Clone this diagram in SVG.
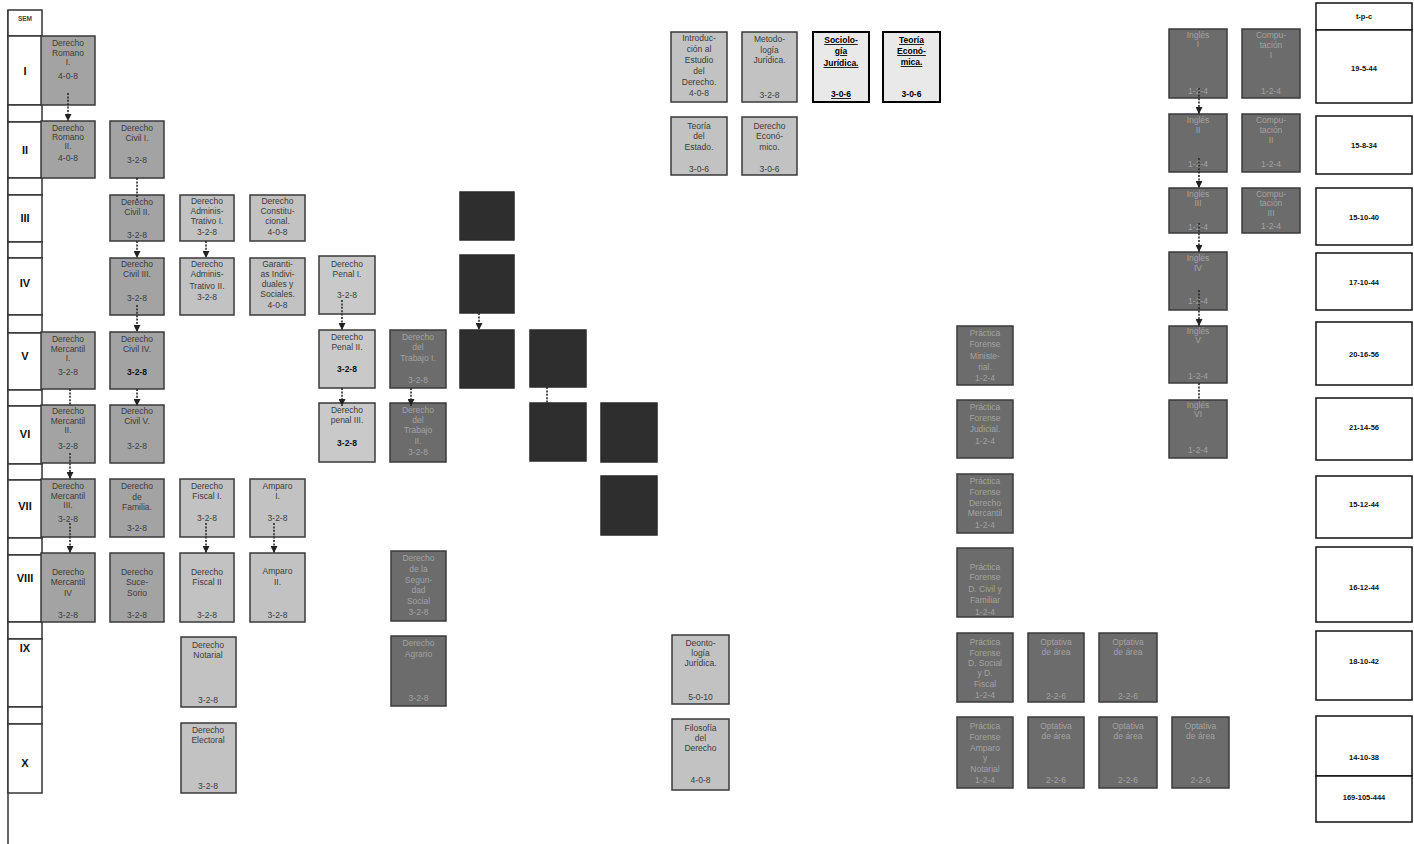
<svg xmlns="http://www.w3.org/2000/svg" width="1414" height="844" viewBox="0 0 1414 844">
<style>
text{font-family:'Liberation Sans',Arial,sans-serif;text-anchor:middle}
.n rect{stroke:#3a3a3a;stroke-width:1.5}
.lt rect{fill:#c2c2c2}.lt2 rect{fill:#c9c9c9}.md rect{fill:#a3a3a3}.dk rect{fill:#6c6c6c}.vd rect{fill:#2e2e2e;stroke:#2a2a2a}
.wb rect{fill:#e9e9e9;stroke:#000;stroke-width:2}
.n text{font-size:8.5px;fill:#3c3c3c}
.dk text{fill:#a2a2a2}
.wb text{fill:#000;font-weight:bold}
.u{text-decoration:underline}
.b{font-weight:bold;fill:#111}
.sem rect{fill:#fff;stroke:#333;stroke-width:1.5}
.sem text{font-size:11px;font-weight:bold;fill:#111}
.tot rect{fill:#fff;stroke:#111;stroke-width:1.5}
.tot text{font-size:7.5px;font-weight:bold;fill:#111}
.c path{fill:none;stroke:#2a2a2a;stroke-width:1.6;stroke-dasharray:2 1.4}
</style>
<defs>
<marker id="ar" markerUnits="userSpaceOnUse" markerWidth="7" markerHeight="7" refX="7" refY="3.5" orient="auto"><path d="M0,0 L7,3.5 L0,7 z" fill="#222"/></marker>
</defs>
<rect width="1414" height="844" fill="#fff"/>

<g id="semesters" class="sem">
<line x1="8" y1="10" x2="8" y2="844" stroke="#333" stroke-width="1.5"/>
<rect x="8" y="10" width="34" height="26"/><text x="25" y="21" style="font-size:6.5px;fill:#444">SEM</text>
<rect x="8" y="36" width="34" height="69"/><text x="25" y="75">I</text>
<rect x="8" y="105" width="34" height="17"/>
<rect x="8" y="122" width="34" height="56"/><text x="25" y="154">II</text>
<rect x="8" y="178" width="34" height="17"/>
<rect x="8" y="195" width="34" height="47"/><text x="25" y="222">III</text>
<rect x="8" y="242" width="34" height="16"/>
<rect x="8" y="258" width="34" height="57"/><text x="25" y="287">IV</text>
<rect x="8" y="315" width="34" height="18"/>
<rect x="8" y="333" width="34" height="57"/><text x="25" y="360">V</text>
<rect x="8" y="390" width="34" height="16"/>
<rect x="8" y="406" width="34" height="58"/><text x="25" y="438">VI</text>
<rect x="8" y="464" width="34" height="16"/>
<rect x="8" y="480" width="34" height="58"/><text x="25" y="510">VII</text>
<rect x="8" y="538" width="34" height="17"/>
<rect x="8" y="555" width="34" height="67"/><text x="25" y="582">VIII</text>
<rect x="8" y="622" width="34" height="17"/>
<rect x="8" y="639" width="34" height="68"/><text x="25" y="652">IX</text>
<rect x="8" y="707" width="34" height="17"/>
<rect x="8" y="724" width="34" height="69"/><text x="25" y="767">X</text>
</g>

<g id="romano1" class="n md"><rect x="41" y="36" width="54" height="69"/><text><tspan x="68" y="46">Derecho</tspan><tspan x="68" y="56">Romano</tspan><tspan x="68" y="65">I.</tspan><tspan x="68" y="79">4-0-8</tspan></text></g>
<g id="romano2" class="n md"><rect x="41" y="121" width="54" height="57"/><text><tspan x="68" y="131">Derecho</tspan><tspan x="68" y="140">Romano</tspan><tspan x="68" y="149">II.</tspan><tspan x="68" y="161">4-0-8</tspan></text></g>
<g id="mercantil1" class="n md"><rect x="41" y="332" width="54" height="57"/><text><tspan x="68" y="342">Derecho</tspan><tspan x="68" y="352">Mercantil</tspan><tspan x="68" y="361">I.</tspan><tspan x="68" y="375">3-2-8</tspan></text></g>
<g id="mercantil2" class="n md"><rect x="41" y="405" width="54" height="58"/><text><tspan x="68" y="414">Derecho</tspan><tspan x="68" y="424">Mercantil</tspan><tspan x="68" y="433">II.</tspan><tspan x="68" y="449">3-2-8</tspan></text></g>
<g id="mercantil3" class="n md"><rect x="41" y="479" width="54" height="58"/><text><tspan x="68" y="489">Derecho</tspan><tspan x="68" y="499">Mercantil</tspan><tspan x="68" y="508">III.</tspan><tspan x="68" y="522">3-2-8</tspan></text></g>
<g id="mercantil4" class="n md"><rect x="41" y="553" width="54" height="69"/><text><tspan x="68" y="575">Derecho</tspan><tspan x="68" y="585">Mercantil</tspan><tspan x="68" y="596">IV</tspan><tspan x="68" y="618">3-2-8</tspan></text></g>

<g id="civil1" class="n md"><rect x="110" y="121" width="54" height="57"/><text><tspan x="137" y="131">Derecho</tspan><tspan x="137" y="141">Civil I.</tspan><tspan x="137" y="163">3-2-8</tspan></text></g>
<g id="civil2" class="n md"><rect x="110" y="195" width="54" height="46"/><text><tspan x="137" y="205">Derecho</tspan><tspan x="137" y="215">Civil II.</tspan><tspan x="137" y="238">3-2-8</tspan></text></g>
<g id="civil3" class="n md"><rect x="110" y="258" width="54" height="57"/><text><tspan x="137" y="267">Derecho</tspan><tspan x="137" y="277">Civil III.</tspan><tspan x="137" y="301">3-2-8</tspan></text></g>
<g id="civil4" class="n md"><rect x="110" y="332" width="54" height="57"/><text><tspan x="137" y="342">Derecho</tspan><tspan x="137" y="352">Civil IV.</tspan><tspan x="137" y="375" class="b">3-2-8</tspan></text></g>
<g id="civil5" class="n md"><rect x="110" y="405" width="54" height="58"/><text><tspan x="137" y="414">Derecho</tspan><tspan x="137" y="424">Civil V.</tspan><tspan x="137" y="449">3-2-8</tspan></text></g>
<g id="familia" class="n md"><rect x="110" y="479" width="54" height="58"/><text><tspan x="137" y="489">Derecho</tspan><tspan x="137" y="500">de</tspan><tspan x="137" y="510">Familia.</tspan><tspan x="137" y="531">3-2-8</tspan></text></g>
<g id="sucesorio" class="n md"><rect x="110" y="553" width="54" height="69"/><text><tspan x="137" y="575">Derecho</tspan><tspan x="137" y="585">Suce-</tspan><tspan x="137" y="596">Sorio</tspan><tspan x="137" y="618">3-2-8</tspan></text></g>

<g id="admin1" class="n lt"><rect x="180" y="195" width="54" height="46"/><text><tspan x="207" y="204">Derecho</tspan><tspan x="207" y="214">Adminis-</tspan><tspan x="207" y="224">Trativo I.</tspan><tspan x="207" y="235">3-2-8</tspan></text></g>
<g id="admin2" class="n lt"><rect x="180" y="258" width="54" height="57"/><text><tspan x="207" y="267">Derecho</tspan><tspan x="207" y="277">Adminis-</tspan><tspan x="207" y="289">Trativo II.</tspan><tspan x="207" y="300">3-2-8</tspan></text></g>
<g id="fiscal1" class="n lt"><rect x="180" y="479" width="54" height="58"/><text><tspan x="207" y="489">Derecho</tspan><tspan x="207" y="499">Fiscal I.</tspan><tspan x="207" y="521">3-2-8</tspan></text></g>
<g id="fiscal2" class="n lt"><rect x="180" y="553" width="54" height="69"/><text><tspan x="207" y="575">Derecho</tspan><tspan x="207" y="585">Fiscal II</tspan><tspan x="207" y="618">3-2-8</tspan></text></g>
<g id="notarial" class="n lt"><rect x="181" y="637" width="55" height="70"/><text><tspan x="208" y="648">Derecho</tspan><tspan x="208" y="658">Notarial</tspan><tspan x="208" y="703">3-2-8</tspan></text></g>
<g id="electoral" class="n lt"><rect x="181" y="723" width="55" height="70"/><text><tspan x="208" y="733">Derecho</tspan><tspan x="208" y="743">Electoral</tspan><tspan x="208" y="789">3-2-8</tspan></text></g>

<g id="constitucional" class="n lt"><rect x="250" y="195" width="55" height="46"/><text><tspan x="277.5" y="204">Derecho</tspan><tspan x="277.5" y="214">Constitu-</tspan><tspan x="277.5" y="224">cional.</tspan><tspan x="277.5" y="235">4-0-8</tspan></text></g>
<g id="garantias" class="n lt"><rect x="250" y="258" width="55" height="57"/><text><tspan x="277.5" y="267">Garanti-</tspan><tspan x="277.5" y="277">as Indivi-</tspan><tspan x="277.5" y="287">duales y</tspan><tspan x="277.5" y="297">Sociales.</tspan><tspan x="277.5" y="308">4-0-8</tspan></text></g>
<g id="amparo1" class="n lt"><rect x="250" y="479" width="55" height="58"/><text><tspan x="277.5" y="489">Amparo</tspan><tspan x="277.5" y="499">I.</tspan><tspan x="277.5" y="521">3-2-8</tspan></text></g>
<g id="amparo2" class="n lt"><rect x="250" y="553" width="55" height="69"/><text><tspan x="277.5" y="574">Amparo</tspan><tspan x="277.5" y="585">II.</tspan><tspan x="277.5" y="618">3-2-8</tspan></text></g>

<g id="penal1" class="n lt2"><rect x="319" y="256" width="56" height="58"/><text><tspan x="347" y="267">Derecho</tspan><tspan x="347" y="277">Penal I.</tspan><tspan x="347" y="298">3-2-8</tspan></text></g>
<g id="penal2" class="n lt2"><rect x="319" y="330" width="56" height="58"/><text><tspan x="347" y="340">Derecho</tspan><tspan x="347" y="350">Penal II.</tspan><tspan x="347" y="372" class="b">3-2-8</tspan></text></g>
<g id="penal3" class="n lt2"><rect x="319" y="403" width="56" height="59"/><text><tspan x="347" y="413">Derecho</tspan><tspan x="347" y="423">penal III.</tspan><tspan x="347" y="446" class="b">3-2-8</tspan></text></g>

<g id="trabajo1" class="n dk"><rect x="390" y="330" width="56" height="58"/><text><tspan x="418" y="340">Derecho</tspan><tspan x="418" y="350">del</tspan><tspan x="418" y="361">Trabajo I.</tspan><tspan x="418" y="383">3-2-8</tspan></text></g>
<g id="trabajo2" class="n dk"><rect x="390" y="403" width="56" height="59"/><text><tspan x="418" y="413">Derecho</tspan><tspan x="418" y="423">del</tspan><tspan x="418" y="433">Trabajo</tspan><tspan x="418" y="444">II.</tspan><tspan x="418" y="455">3-2-8</tspan></text></g>
<g id="seguridad" class="n dk"><rect x="391" y="551" width="55" height="70"/><text><tspan x="418.5" y="561">Derecho</tspan><tspan x="418.5" y="572">de la</tspan><tspan x="418.5" y="583">Seguri-</tspan><tspan x="418.5" y="593">dad</tspan><tspan x="418.5" y="604">Social</tspan><tspan x="418.5" y="615">3-2-8</tspan></text></g>
<g id="agrario" class="n dk"><rect x="391" y="636" width="55" height="70"/><text><tspan x="418.5" y="646">Derecho</tspan><tspan x="418.5" y="657">Agrario</tspan><tspan x="418.5" y="701">3-2-8</tspan></text></g>

<g id="dark-3a" class="n vd"><rect x="460" y="192" width="54" height="48"/></g>
<g id="dark-4a" class="n vd"><rect x="460" y="255" width="54" height="58"/></g>
<g id="dark-5a" class="n vd"><rect x="460" y="330" width="54" height="58"/></g>
<g id="dark-5b" class="n vd"><rect x="530" y="330" width="56" height="57"/></g>
<g id="dark-6b" class="n vd"><rect x="530" y="403" width="56" height="58"/></g>
<g id="dark-6c" class="n vd"><rect x="601" y="403" width="56" height="59"/></g>
<g id="dark-7c" class="n vd"><rect x="601" y="476" width="56" height="59"/></g>

<g id="introduccion" class="n lt"><rect x="671" y="32" width="56" height="70"/><text><tspan x="699" y="41">Introduc-</tspan><tspan x="699" y="52">ción al</tspan><tspan x="699" y="63">Estudio</tspan><tspan x="699" y="74">del</tspan><tspan x="699" y="85">Derecho.</tspan><tspan x="699" y="96">4-0-8</tspan></text></g>
<g id="metodologia" class="n lt"><rect x="742" y="32" width="55" height="70"/><text><tspan x="769.5" y="42">Metodo-</tspan><tspan x="769.5" y="53">logía</tspan><tspan x="769.5" y="63">Jurídica.</tspan><tspan x="769.5" y="98">3-2-8</tspan></text></g>
<g id="sociologia" class="n wb"><rect x="813" y="32" width="56" height="70"/><text class="u"><tspan x="841" y="43">Sociolo-</tspan><tspan x="841" y="54">gía</tspan><tspan x="841" y="66">Jurídica.</tspan><tspan x="841" y="97">3-0-6</tspan></text></g>
<g id="teoria-economica" class="n wb"><rect x="883" y="32" width="57" height="70"/><text class="u"><tspan x="911.5" y="43">Teoría</tspan><tspan x="911.5" y="54">Econó-</tspan><tspan x="911.5" y="65">mica.</tspan></text><text x="911.5" y="97">3-0-6</text></g>
<g id="teoria-estado" class="n lt"><rect x="671" y="117" width="56" height="58"/><text><tspan x="699" y="129">Teoría</tspan><tspan x="699" y="139">del</tspan><tspan x="699" y="150">Estado.</tspan><tspan x="699" y="172">3-0-6</tspan></text></g>
<g id="derecho-economico" class="n lt"><rect x="742" y="117" width="55" height="58"/><text><tspan x="769.5" y="129">Derecho</tspan><tspan x="769.5" y="139">Econó-</tspan><tspan x="769.5" y="150">mico.</tspan><tspan x="769.5" y="172">3-0-6</tspan></text></g>
<g id="deontologia" class="n lt"><rect x="672" y="635" width="57" height="69"/><text><tspan x="700.5" y="646">Deonto-</tspan><tspan x="700.5" y="656">logía</tspan><tspan x="700.5" y="666">Jurídica.</tspan><tspan x="700.5" y="700">5-0-10</tspan></text></g>
<g id="filosofia" class="n lt"><rect x="672" y="719" width="57" height="71"/><text><tspan x="700.5" y="731">Filosofía</tspan><tspan x="700.5" y="741">del</tspan><tspan x="700.5" y="751">Derecho</tspan><tspan x="700.5" y="783">4-0-8</tspan></text></g>

<g id="practica5" class="n dk"><rect x="957" y="326" width="56" height="59"/><text><tspan x="985" y="336">Práctica</tspan><tspan x="985" y="347">Forense</tspan><tspan x="985" y="359">Ministe-</tspan><tspan x="985" y="370">rial.</tspan><tspan x="985" y="381">1-2-4</tspan></text></g>
<g id="practica6" class="n dk"><rect x="957" y="400" width="56" height="58"/><text><tspan x="985" y="410">Práctica</tspan><tspan x="985" y="421">Forense</tspan><tspan x="985" y="432">Judicial.</tspan><tspan x="985" y="444">1-2-4</tspan></text></g>
<g id="practica7" class="n dk"><rect x="957" y="474" width="56" height="59"/><text><tspan x="985" y="484">Práctica</tspan><tspan x="985" y="495">Forense</tspan><tspan x="985" y="506">Derecho</tspan><tspan x="985" y="516">Mercantil</tspan><tspan x="985" y="528">1-2-4</tspan></text></g>
<g id="practica8" class="n dk"><rect x="957" y="548" width="56" height="69"/><text><tspan x="985" y="570">Práctica</tspan><tspan x="985" y="580">Forense</tspan><tspan x="985" y="592">D. Civil y</tspan><tspan x="985" y="603">Familiar</tspan><tspan x="985" y="615">1-2-4</tspan></text></g>
<g id="practica9" class="n dk"><rect x="957" y="633" width="56" height="69"/><text><tspan x="985" y="645">Práctica</tspan><tspan x="985" y="656">Forense</tspan><tspan x="985" y="666">D. Social</tspan><tspan x="985" y="676">y D.</tspan><tspan x="985" y="687">Fiscal</tspan><tspan x="985" y="698">1-2-4</tspan></text></g>
<g id="practica10" class="n dk"><rect x="957" y="717" width="56" height="71"/><text><tspan x="985" y="729">Práctica</tspan><tspan x="985" y="740">Forense</tspan><tspan x="985" y="751">Amparo</tspan><tspan x="985" y="761">y</tspan><tspan x="985" y="772">Notarial</tspan><tspan x="985" y="783">1-2-4</tspan></text></g>

<g id="optativa9a" class="n dk"><rect x="1028" y="633" width="56" height="69"/><text><tspan x="1056" y="645">Optativa</tspan><tspan x="1056" y="655">de área</tspan><tspan x="1056" y="699">2-2-6</tspan></text></g>
<g id="optativa9b" class="n dk"><rect x="1099" y="633" width="58" height="69"/><text><tspan x="1128" y="645">Optativa</tspan><tspan x="1128" y="655">de área</tspan><tspan x="1128" y="699">2-2-6</tspan></text></g>
<g id="optativa10a" class="n dk"><rect x="1028" y="717" width="56" height="71"/><text><tspan x="1056" y="729">Optativa</tspan><tspan x="1056" y="739">de área</tspan><tspan x="1056" y="783">2-2-6</tspan></text></g>
<g id="optativa10b" class="n dk"><rect x="1099" y="717" width="58" height="71"/><text><tspan x="1128" y="729">Optativa</tspan><tspan x="1128" y="739">de área</tspan><tspan x="1128" y="783">2-2-6</tspan></text></g>
<g id="optativa10c" class="n dk"><rect x="1172" y="717" width="57" height="71"/><text><tspan x="1200.5" y="729">Optativa</tspan><tspan x="1200.5" y="739">de área</tspan><tspan x="1200.5" y="783">2-2-6</tspan></text></g>

<g id="ingles1" class="n dk"><rect x="1169" y="29" width="58" height="69"/><text><tspan x="1198" y="38">Inglés</tspan><tspan x="1198" y="47">I</tspan><tspan x="1198" y="94">1-2-4</tspan></text></g>
<g id="ingles2" class="n dk"><rect x="1169" y="114" width="58" height="58"/><text><tspan x="1198" y="123">Inglés</tspan><tspan x="1198" y="133">II</tspan><tspan x="1198" y="167">1-2-4</tspan></text></g>
<g id="ingles3" class="n dk"><rect x="1169" y="188" width="58" height="45"/><text><tspan x="1198" y="197">Inglés</tspan><tspan x="1198" y="206">III</tspan><tspan x="1198" y="230">1-2-4</tspan></text></g>
<g id="ingles4" class="n dk"><rect x="1169" y="252" width="58" height="58"/><text><tspan x="1198" y="261">Inglés</tspan><tspan x="1198" y="271">IV</tspan><tspan x="1198" y="304">1-2-4</tspan></text></g>
<g id="ingles5" class="n dk"><rect x="1169" y="326" width="58" height="57"/><text><tspan x="1198" y="334">Inglés</tspan><tspan x="1198" y="343">V</tspan><tspan x="1198" y="379">1-2-4</tspan></text></g>
<g id="ingles6" class="n dk"><rect x="1169" y="400" width="58" height="58"/><text><tspan x="1198" y="408">Inglés</tspan><tspan x="1198" y="417">VI</tspan><tspan x="1198" y="453">1-2-4</tspan></text></g>

<g id="computacion1" class="n dk"><rect x="1242" y="29" width="58" height="69"/><text><tspan x="1271" y="38">Compu-</tspan><tspan x="1271" y="48">tación</tspan><tspan x="1271" y="58">I</tspan><tspan x="1271" y="94">1-2-4</tspan></text></g>
<g id="computacion2" class="n dk"><rect x="1242" y="114" width="58" height="58"/><text><tspan x="1271" y="123">Compu-</tspan><tspan x="1271" y="133">tación</tspan><tspan x="1271" y="143">II</tspan><tspan x="1271" y="167">1-2-4</tspan></text></g>
<g id="computacion3" class="n dk"><rect x="1242" y="188" width="58" height="45"/><text><tspan x="1271" y="197">Compu-</tspan><tspan x="1271" y="206">tación</tspan><tspan x="1271" y="216">III</tspan><tspan x="1271" y="229">1-2-4</tspan></text></g>

<g id="totals" class="tot">
<rect x="1316" y="3" width="96" height="27"/><text x="1364" y="19">t-p-c</text>
<rect x="1316" y="30" width="96" height="73"/><text x="1364" y="71">19-5-44</text>
<rect x="1316" y="116" width="96" height="58"/><text x="1364" y="148">15-8-34</text>
<rect x="1316" y="188" width="96" height="57"/><text x="1364" y="220">15-10-40</text>
<rect x="1316" y="253" width="96" height="57"/><text x="1364" y="285">17-10-44</text>
<rect x="1316" y="322" width="96" height="63"/><text x="1364" y="357">20-16-56</text>
<rect x="1316" y="398" width="96" height="62"/><text x="1364" y="430">21-14-56</text>
<rect x="1316" y="476" width="96" height="62"/><text x="1364" y="507">15-12-44</text>
<rect x="1316" y="547" width="96" height="75"/><text x="1364" y="590">16-12-44</text>
<rect x="1316" y="631" width="96" height="69"/><text x="1364" y="664">18-10-42</text>
<rect x="1316" y="716" width="96" height="60"/><text x="1364" y="760">14-10-38</text>
<rect x="1316" y="776" width="96" height="46"/><text x="1364" y="800">169-105-444</text>
</g>

<g id="connectors" class="c">
<path d="M68,93 V121" marker-end="url(#ar)"/>
<path d="M137,178 V200"/>
<path d="M137,241 V258" marker-end="url(#ar)"/>
<path d="M206,241 V258" marker-end="url(#ar)"/>
<path d="M137,305 V332" marker-end="url(#ar)"/>
<path d="M137,389 V406" marker-end="url(#ar)"/>
<path d="M70,389 V405"/>
<path d="M70,453 V479" marker-end="url(#ar)"/>
<path d="M70,523 V553" marker-end="url(#ar)"/>
<path d="M206,523 V553" marker-end="url(#ar)"/>
<path d="M274,523 V553" marker-end="url(#ar)"/>
<path d="M342,300 V330" marker-end="url(#ar)"/>
<path d="M342,388 V406" marker-end="url(#ar)"/>
<path d="M411,388 V406" marker-end="url(#ar)"/>
<path d="M479,313 V330" marker-end="url(#ar)"/>
<path d="M547,387 V403"/>
<path d="M1199,88 V114" marker-end="url(#ar)"/>
<path d="M1199,158 V188" marker-end="url(#ar)"/>
<path d="M1199,223 V252" marker-end="url(#ar)"/>
<path d="M1199,290 V326" marker-end="url(#ar)"/>
<path d="M1199,383 V400"/>
</g>
</svg>
